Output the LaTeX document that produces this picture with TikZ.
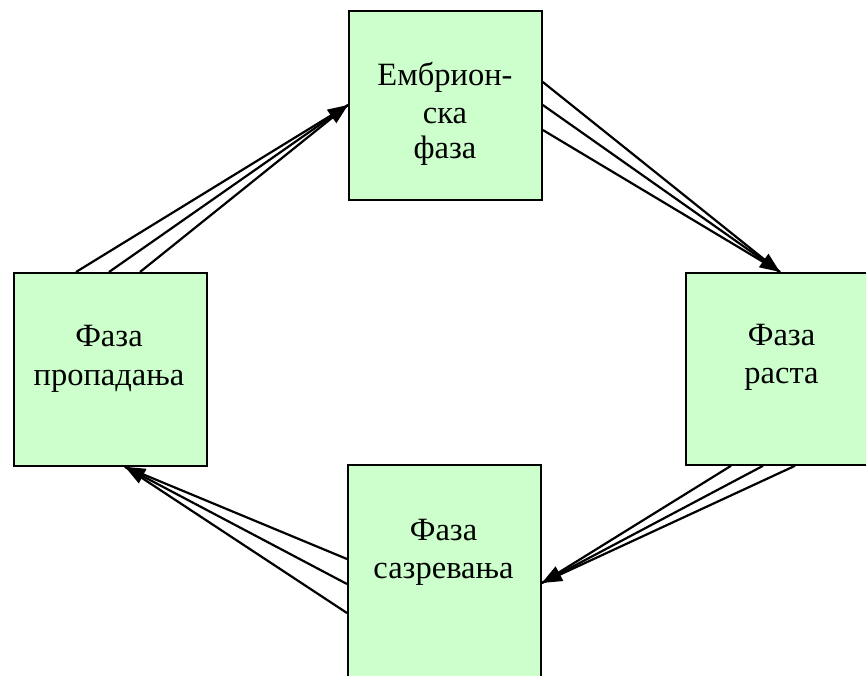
\documentclass[tikz,border=0pt]{standalone}
\usepackage{fontspec}
\setmainfont{Liberation Serif}
\usetikzlibrary{arrows.meta}
\definecolor{phasegreen}{HTML}{CCFFCC}
\pgfdeclarelayer{links}
\pgfsetlayers{links,main}
\tikzset{
  phase/.style={draw=black, line width=1.8pt, fill=phasegreen, inner sep=0pt,
    anchor=north west, minimum width=193pt},
  lbl/.style={anchor=base, inner sep=0pt, font=\fontsize{32.5}{37}\selectfont},
  link/.style={line width=2.2pt},
  tiplink/.style={link, -{Triangle[length=20pt,width=16pt]}}
}
\begin{document}
\begin{tikzpicture}[x=1pt,y=-1pt]
\useasboundingbox (0,0) rectangle (866,675);
\clip (0,0) rectangle (866,675);

% the four phase boxes
\node[phase, minimum height=189pt] (emb) at (348,10) {};
\node[phase, minimum height=193pt] (decl) at (13,272) {};
\node[phase, minimum height=192pt] (grow) at (685,272) {};
\node[phase, minimum height=226pt] (mat) at (347,464) {};

% labels
\node[lbl] (emb1) at (445,85) {Ембрион-};
\node[lbl] (emb2) at (445,123) {ска};
\node[lbl] (emb3) at (445,158) {фаза};
\node[lbl] (decl1) at (109,346) {Фаза};
\node[lbl] (decl2) at (109,385) {пропадања};
\node[lbl] (grow1) at (781.5,345) {Фаза};
\node[lbl] (grow2) at (781.5,383) {раста};
\node[lbl] (mat1) at (443.5,540) {Фаза};
\node[lbl] (mat2) at (443.5,578) {сазревања};

% triple connectors, kept beneath the boxes
\begin{pgfonlayer}{links}
  % embryonic -> growth
  \draw[link] ([yshift=-72pt]emb.north east) -- ([xshift=95pt]grow.north west);
  \draw[tiplink] ([yshift=-95pt]emb.north east) -- ([xshift=95pt]grow.north west);
  \draw[link] ([yshift=-120pt]emb.north east) -- ([xshift=95pt]grow.north west);
  % growth -> maturity
  \draw[link] ([xshift=46pt]grow.south west) -- ([yshift=-119pt]mat.north east);
  \draw[tiplink] ([xshift=78pt]grow.south west) -- ([yshift=-119pt]mat.north east);
  \draw[link] ([xshift=110pt]grow.south west) -- ([yshift=-119pt]mat.north east);
  % maturity -> decline
  \draw[link] ([yshift=-95pt]mat.north west) -- ([xshift=112pt]decl.south west);
  \draw[tiplink] ([yshift=-120pt]mat.north west) -- ([xshift=112pt]decl.south west);
  \draw[link] ([yshift=-149pt]mat.north west) -- ([xshift=112pt]decl.south west);
  % decline -> embryonic
  \draw[link] ([xshift=63pt]decl.north west) -- ([yshift=-95pt]emb.north west);
  \draw[tiplink] ([xshift=96pt]decl.north west) -- ([yshift=-95pt]emb.north west);
  \draw[link] ([xshift=127pt]decl.north west) -- ([yshift=-95pt]emb.north west);
\end{pgfonlayer}
\end{tikzpicture}
\end{document}
